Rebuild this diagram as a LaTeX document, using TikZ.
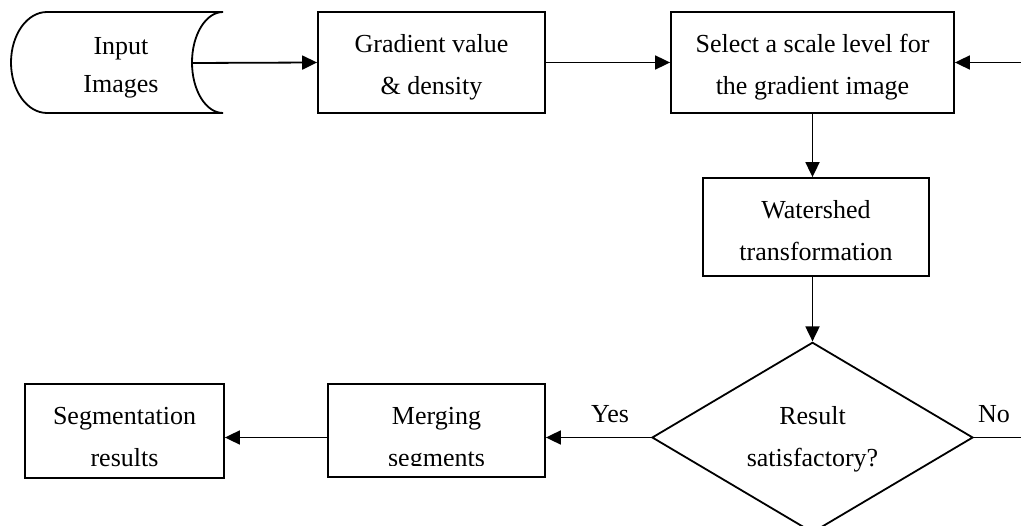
\documentclass[tikz,border=0pt]{standalone}
\usepackage{fontspec}
\setmainfont{Liberation Serif}
\usepackage{tikz}
\usetikzlibrary{shapes.geometric,arrows.meta}

\begin{document}
\begin{tikzpicture}[x=1pt,y=-1pt]

                % pixel grid of the flow chart, y grows downwards
                \tikzstyle{flowtext}=[font=\fontsize{26}{42}\selectfont,align=center,inner sep=0pt]
                \tikzstyle{flowlines}=[flowtext,text height=65pt,text depth=0pt]
                \tikzstyle{flowbox}=[flowlines,draw,line width=1.8pt,rectangle]
                \tikzstyle{flowtest}=[flowlines,draw,line width=1.8pt,diamond,minimum width=321pt,minimum height=190pt,text height=59pt]
                \tikzstyle{flowarrow}=[line width=1.8pt,-{Triangle[length=15pt,width=14pt]}]

                \useasboundingbox (0,0) rectangle (1021,526);
                \clip (0,0) rectangle (1021,526);

                % input images (stored data)
                \node [flowlines,font=\fontsize{26}{38}\selectfont,text height=61pt] (input) at (121,62.5) {Input\\Images};
                \draw [line width=1.8pt] (47,12) -- (223,12)
                    .. controls (205.9,12) and (192,34.6) .. (192,62.5)
                    .. controls (192,90.4) and (205.9,113) .. (223,113)
                    -- (47,113)
                    .. controls (27.1,113) and (11,90.4) .. (11,62.5)
                    .. controls (11,34.6) and (27.1,12) .. (47,12) -- cycle;
                \coordinate (inputend) at (192,63);

                \node [flowbox,minimum width=227pt,minimum height=101pt] (gradient) at (431.5,62.5) {Gradient value\\\& density};
                \node [flowbox,minimum width=283pt,minimum height=101pt] (select) at (812.5,62.5) {Select a scale level for\\the gradient image};
                \node [flowbox,minimum width=226pt,minimum height=98pt,text height=68pt] (watershed) at (816,227) {Watershed\\transformation};
                \node [flowtest] (check) at (812.5,437.5) {Result\\satisfactory?};
                \node [flowbox,minimum width=217pt,minimum height=93pt,text height=72pt] (merging) at (436.5,430.5) {Merging\\segments};
                \node [flowbox,minimum width=199pt,minimum height=94pt,text height=71pt] (segres) at (124.5,431) {Segmentation\\results};

                % the second line of the merging box is cut at its baseline
                \fill [white] (329.5,466.5) rectangle (543.5,476);

                \node [flowtext] (yes) at (610,414) {Yes};
                \node [flowtext] (no) at (994,414) {No};
                \coordinate (loop) at (1060,437.5);

                \draw [flowarrow] (inputend) -- (gradient.west);
                \draw [flowarrow] (gradient.east) -- (select.west);
                \draw [flowarrow] (select.south -| check.north) -- (check.north |- watershed.north);
                \draw [flowarrow] (watershed.south -| check.north) -- (check.north);
                \draw [flowarrow] (check.west) -- (check.west -| merging.east);
                \draw [flowarrow] (merging.west |- check.west) -- (check.west -| segres.east);
                \draw [flowarrow] (check.east) -- (loop) |- (select.east);

\end{tikzpicture}
\end{document}
